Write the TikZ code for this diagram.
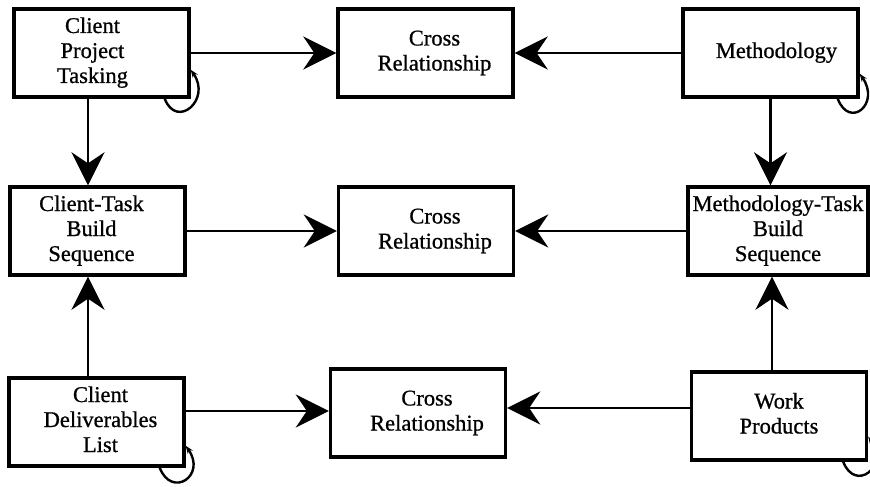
\documentclass[tikz,border=0pt]{standalone}
\usepackage{fontspec}
\newfontfamily\diagfont{Liberation Serif}[FakeBold=0.8]
\usetikzlibrary{arrows.meta}
\newcommand\bt[2]{\hspace*{#1}\begin{tabular}{@{}c@{}}#2\end{tabular}}
\begin{document}
\begin{tikzpicture}[x=1pt,y=-1pt,
  box/.style={draw,line width=3.4pt,minimum width=175pt,minimum height=88pt,inner sep=0pt,font=\diagfont\fontsize{22.5}{25}\selectfont},
  conn/.style={line width=2.6pt,-{Stealth[length=33pt,width=33pt,inset=11pt]}},
  selfloop/.style={line width=2.4pt,-{Stealth[length=8pt,width=6pt]}}]
\useasboundingbox (0,0) rectangle (870,487);

\node[box] (cpt) at (101.5,53) {\bt{-18pt}{Client\\Project\\Tasking}};
\node[box] (cr1) at (425.5,53) {\bt{18pt}{Cross\\Relationship}};
\node[box] (meth) at (770.5,53) {\bt{12pt}{Methodology}};

\node[box] (ctb) at (97.5,231) {\bt{-12pt}{Client-Task\\Build\\Sequence}};
\node[box] (cr2) at (426,231) {\bt{18pt}{Cross\\Relationship}};
\node[box,minimum width=180pt] (mtb) at (778,231) {\bt{0pt}{Methodology-Task\\Build\\Sequence}};

\node[box] (cdl) at (96.5,422) {\bt{8pt}{Client\\Deliverables\\List}};
\node[box] (cr3) at (418,413) {\bt{18pt}{Cross\\Relationship}};
\node[box] (wp) at (779,416) {\bt{0pt}{Work\\Products}};

% row 1
\draw[conn] (cpt) -- (cr1);
\draw[conn] (meth) -- (cr1);
% row 2
\draw[conn] (ctb) -- (cr2);
\draw[conn] (mtb) -- (cr2);
% row 3
\draw[conn] ([yshift=11pt]cdl.east) -- ([yshift=2pt]cr3.west);
\draw[conn] ([yshift=8pt]wp.west) -- ([yshift=5pt]cr3.east);
% verticals
\draw[conn] ([xshift=-13.5pt]cpt.south) -- ([xshift=-9.5pt]ctb.north);
\draw[conn] (meth.south) -- ([xshift=-7.5pt]mtb.north);
\draw[conn] ([xshift=-8.5pt]cdl.north) -- ([xshift=-9.5pt]ctb.south);
\draw[conn] ([xshift=-7pt]wp.north) -- ([xshift=-6pt]mtb.south);

% self loops
\draw[selfloop] ([xshift=-26pt]cpt.south east) .. controls +(12,31) and +(21,30) .. ([yshift=29pt]cpt.south east);
\draw[selfloop] ([xshift=-22pt]meth.south east) .. controls +(12,31) and +(21,30) .. ([yshift=25pt]meth.south east);
\draw[selfloop] ([xshift=-26pt]cdl.south east) .. controls +(12,31) and +(21,30) .. ([yshift=22pt]cdl.south east);
\draw[selfloop] ([xshift=-25pt]wp.south east) .. controls +(12,31) and +(21,30) .. ([yshift=25pt]wp.south east);
\end{tikzpicture}
\end{document}
